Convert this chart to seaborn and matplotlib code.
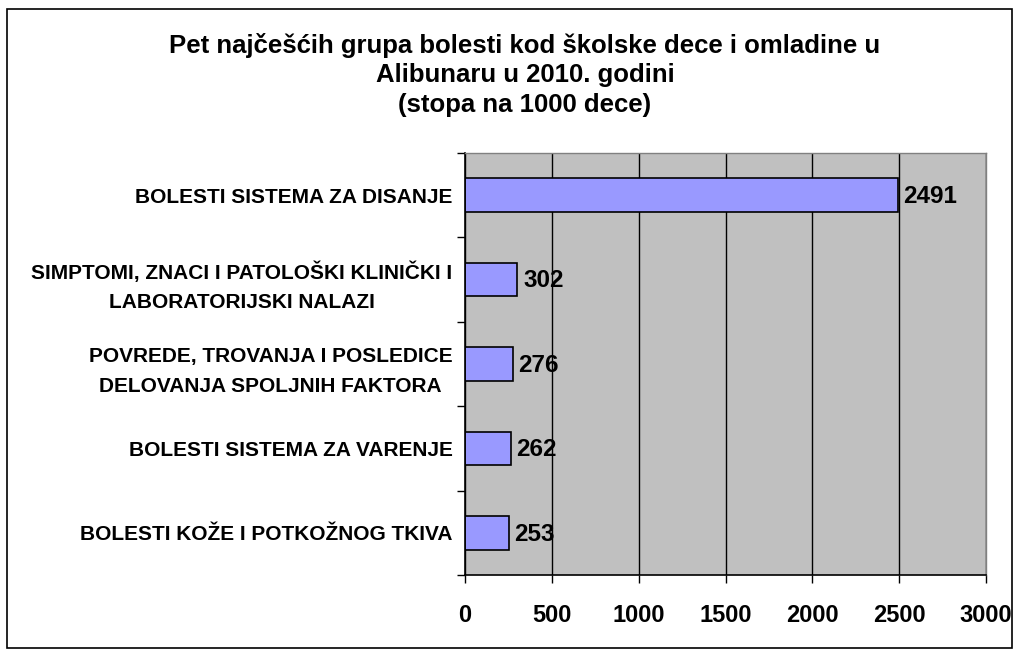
import matplotlib
matplotlib.use("Agg")
import matplotlib.pyplot as plt
import seaborn as sns
import pandas as pd
from matplotlib.patches import Rectangle

categories = [
    "BOLESTI SISTEMA ZA DISANJE",
    "SIMPTOMI, ZNACI I PATOLOŠKI KLINIČKI I\nLABORATORIJSKI NALAZI",
    "POVREDE, TROVANJA I POSLEDICE\nDELOVANJA SPOLJNIH FAKTORA",
    "BOLESTI SISTEMA ZA VARENJE",
    "BOLESTI KOŽE I POTKOŽNOG TKIVA",
]
values = [2491, 302, 276, 262, 253]
x_ticks = [0, 500, 1000, 1500, 2000, 2500, 3000]
title_lines = [
    "Pet najčešćih grupa bolesti kod školske dece i omladine u",
    "Alibunaru u 2010. godini",
    "(stopa na 1000 dece)",
]

sns.set_theme(style="white")
plt.rcParams["font.family"] = ["Liberation Sans", "DejaVu Sans"]
plt.rcParams["text.color"] = "black"
plt.rcParams["xtick.color"] = "black"
plt.rcParams["ytick.color"] = "black"
plt.rcParams["xtick.labelcolor"] = "black"
plt.rcParams["ytick.labelcolor"] = "black"

df = pd.DataFrame({"cat": categories, "val": values})

fig = plt.figure(figsize=(10.15, 6.51), dpi=100)
ax = fig.add_axes([465/1015, 1 - 575/651, (986-465)/1015, (575-153)/651])
ax.set_facecolor("#C0C0C0")

sns.barplot(data=df, y="cat", x="val", orient="h", color="#9999FF",
            edgecolor="black", linewidth=1.2, width=0.4, ax=ax, saturation=1)

ax.set_xlim(0, 3000)
ax.set_ylim(len(categories) - 0.5, -0.5)
ax.set_xticks(x_ticks)
ax.set_xticklabels([str(t) for t in x_ticks], fontsize=17, fontweight="bold",
                   color="black")
ax.set_yticks(range(len(categories)))
ax.set_yticklabels(categories, fontsize=15, fontweight="bold", ha="right",
                   multialignment="center", linespacing=1.7, color="black")
ax.tick_params(axis="y", length=0, pad=9)
ax.tick_params(axis="x", length=6, width=1, direction="out", pad=15,
               bottom=True)
ax.set_xlabel("")
ax.set_ylabel("")

# category boundary ticks on y
ax.set_yticks([i + 0.5 for i in range(-1, len(categories))], minor=True)
ax.tick_params(axis="y", which="minor", length=6, width=1, direction="out",
               left=True)

ax.grid(axis="x", color="black", linewidth=1)
ax.set_axisbelow(True)
for s in ["top", "right"]:
    ax.spines[s].set_color("#808080")
    ax.spines[s].set_linewidth(1)
for s in ["left", "bottom"]:
    ax.spines[s].set_color("black")
    ax.spines[s].set_linewidth(1.2)

for i, v in enumerate(values):
    ax.annotate(str(v), (v, i), xytext=(4, -1), textcoords="offset points",
                va="center", ha="left", fontsize=17.5, fontweight="bold",
                color="black")

for k, line in enumerate(title_lines):
    fig.text(525/1015, 1 - (45 + 30*k)/651, line, ha="center", va="center",
             fontsize=18.5, fontweight="bold", color="black")

fig.patches.append(Rectangle((7/1015, 1 - 648/651), (1012-7)/1015, (648-9)/651,
                             transform=fig.transFigure, fill=False,
                             edgecolor="black", linewidth=1.2))

fig.savefig("out.png", dpi=100)
